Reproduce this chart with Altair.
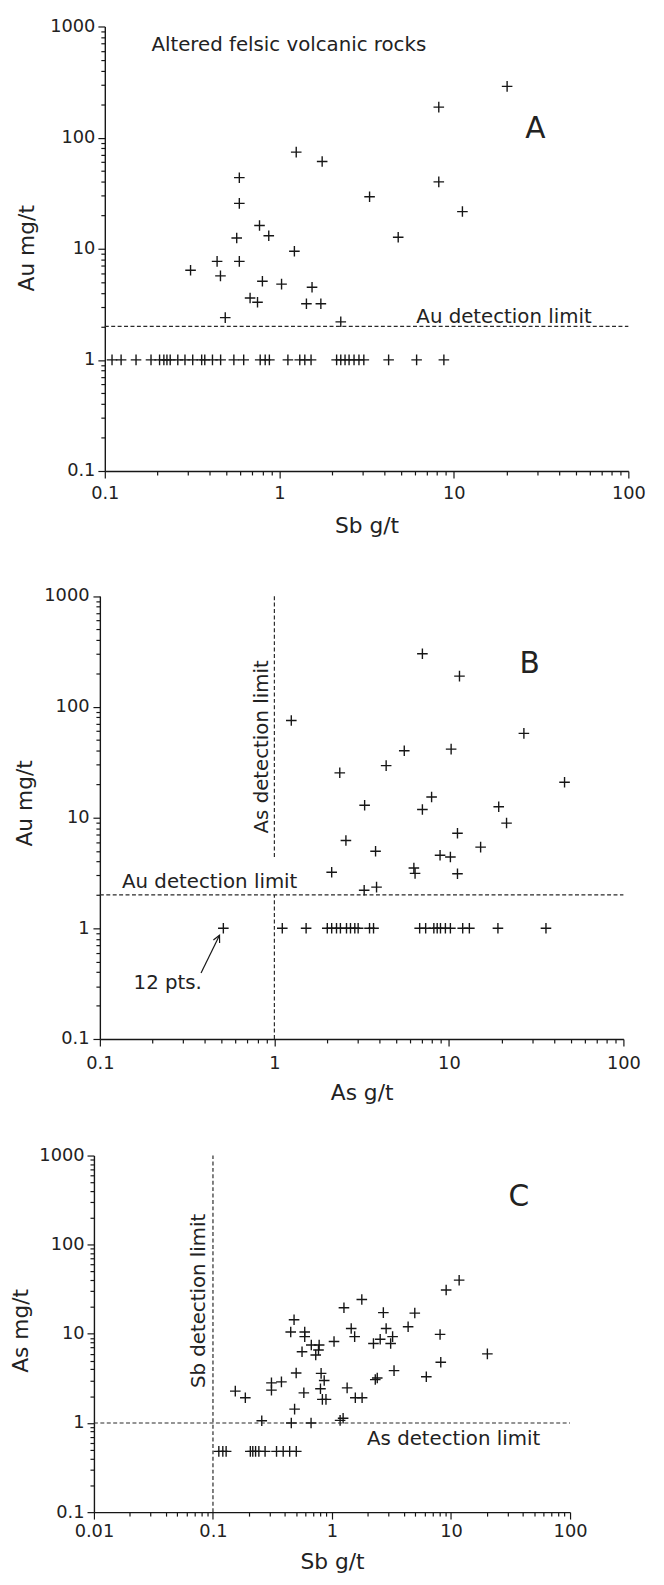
import altair as alt
import pandas as pd

# ---------------- Panel A: Au (mg/t) vs Sb (g/t) ----------------
A_SB = [0.31, 0.44, 0.46, 0.49, 0.59, 0.59, 0.57, 0.59, 0.77, 0.87, 0.68, 0.75, 0.80,
        1.03, 1.22, 1.25, 1.76, 1.54, 1.43, 1.73, 2.25, 20.2, 8.2, 8.2, 3.29, 11.2, 4.8]
A_AU = [6.4, 7.7, 5.7, 2.4, 43.6, 25.6, 12.5, 7.7, 16.2, 13.1, 3.6, 3.3, 5.1,
        4.8, 9.5, 74, 61, 4.5, 3.2, 3.2, 2.2, 289, 188, 40, 29.4, 21.6, 12.7]
A_LOW_SB = [0.110, 0.124, 0.151, 0.184, 0.206, 0.218, 0.227, 0.237, 0.262, 0.288, 0.319,
            0.359, 0.374, 0.414, 0.461, 0.549, 0.625, 0.777, 0.83, 0.877, 1.12, 1.31,
            1.40, 1.52, 2.13, 2.25, 2.38, 2.51, 2.68, 2.86, 3.05, 4.23, 6.12, 8.77]
A_LOW_AU = 1.0
A_AU_LIMIT = 2.0

# ---------------- Panel B: Au (mg/t) vs As (g/t) ----------------
B_AS = [1.25, 2.37, 3.29, 2.57, 2.13, 3.27, 3.85, 7.05, 11.5, 26.9, 5.55, 10.3, 4.37,
        46, 7.96, 7.05, 19.3, 21.4, 11.2, 3.8, 15.2, 8.9, 10.2, 6.3, 6.4, 11.2]
B_AU = [75, 25.3, 12.9, 6.2, 3.2, 2.2, 2.35, 301, 189, 57.5, 40, 41.4, 29.4,
        20.8, 15.3, 11.8, 12.5, 8.9, 7.2, 4.95, 5.4, 4.56, 4.4, 3.5, 3.13, 3.1]
B_LOW_AS = [1.11, 1.52, 2.01, 2.13, 2.27, 2.39, 2.59, 2.73, 2.89, 3.02, 3.51, 3.70,
            6.8, 7.36, 8.2, 8.57, 8.95, 9.55, 10.2, 12.0, 13.1, 19.1, 36]
B_LOW_AU = 1.0
B_BOTH_LOW = [0.51, 1.0]          # 12 superimposed points
B_AU_LIMIT = 2.0
B_AS_LIMIT = 1.0

# ---------------- Panel C: As (mg/t) vs Sb (g/t) ----------------
C_SB = [9.1, 11.7, 1.78, 1.26, 2.7, 4.96, 0.48, 0.45, 0.59, 0.59, 1.45, 1.55, 2.85,
        3.23, 4.36, 8.09, 1.04, 2.23, 2.54, 3.11, 0.67, 0.78, 0.56, 0.73, 0.77, 20.2,
        8.2, 0.50, 0.81, 0.86, 3.32, 6.2, 2.31, 2.4, 0.31, 0.31, 0.376, 0.154, 0.187,
        0.58, 0.80, 0.83, 0.89, 1.34, 1.57, 1.79, 0.485, 0.257, 0.455, 0.667, 1.17, 1.24]
C_AS = [31, 40, 24.3, 19.6, 17.3, 17.1, 14.4, 10.5, 10.5, 9.3, 11.5, 9.3, 11.5,
        9.3, 12, 9.85, 8.2, 7.8, 8.7, 7.8, 7.5, 7.5, 6.3, 5.8, 6.6, 5.96,
        4.8, 3.64, 3.6, 3.0, 3.87, 3.3, 3.07, 3.2, 2.82, 2.34, 2.89, 2.28, 1.92,
        2.18, 2.42, 1.84, 1.84, 2.48, 1.92, 1.92, 1.43, 1.06, 1.0, 1.0, 1.07, 1.13]
C_LOW_SB = [0.112, 0.121, 0.129, 0.206, 0.216, 0.228, 0.243, 0.274, 0.342, 0.389, 0.441, 0.501]
C_LOW_AS = 0.48
C_SB_LIMIT = 0.1
C_AS_LIMIT = 1.0

DECADES = [0.01, 0.1, 1, 10, 100, 1000]
FONT = "DejaVu Sans"
INK = "#161616"
CROSS = "M-1,0L1,0M0,-1L0,1"
CHEVRON = "M-0.5,1L0,0L0.5,1"


def log_ticks(lo, hi):
    vals = []
    for e in range(lo, hi):
        for m in range(1, 10):
            vals.append(float(f"{m}e{e}"))
    vals.append(float(f"1e{hi}"))
    return vals


DEC_TEST = "indexof([0.01, 0.1, 1, 10, 100, 1000], datum.value) >= 0"


def axis(title, values, **kw):
    return alt.Axis(
        title=title, values=values, format="~g",
        labelExpr=DEC_TEST + " ? datum.label : ''",
        tickSize={"condition": {"test": DEC_TEST, "value": 7}, "value": 4},
        labelOverlap=False, labelFlush=False, labelBound=False, grid=False,
        domainColor=INK, domainWidth=1.4, tickColor=INK, tickWidth=1.2,
        labelFont=FONT, labelFontSize=18, labelColor="#222",
        titleFont=FONT, titleFontSize=22, titleFontWeight="normal", titleColor="#222",
        titleBaseline="middle", titleAlign="center",
        **kw)


def panel(xs, ys, xa, ya, pts, low, rules, notes, letters, rots, extra=None,
          width=500, height=400):
    X = lambda f="x": alt.X(f + ":Q", scale=xs, axis=xa)
    Y = lambda f="y": alt.Y(f + ":Q", scale=ys, axis=ya)
    layers = []
    layers.append(alt.Chart(pts).mark_point(shape=CROSS, filled=False, size=115,
                                            color=INK, strokeWidth=1.4, opacity=1)
                  .encode(x=X(), y=Y()))
    layers.append(alt.Chart(low).mark_point(shape=CROSS, filled=False, size=115,
                                            color=INK, strokeWidth=1.4, opacity=1)
                  .encode(x=X(), y=Y()))
    layers.append(alt.Chart(rules).mark_rule(color="#2a2a2a", strokeWidth=1.2, strokeDash=[4, 2.5])
                  .encode(x=X(), x2="x2:Q", y=Y(), y2="y2:Q"))
    layers.append(alt.Chart(notes).mark_text(font=FONT, fontSize=20, color="#222",
                                             align="left", baseline="middle")
                  .encode(x=X(), y=Y(), text="t:N"))
    layers.append(alt.Chart(letters).mark_text(font=FONT, fontSize=30, color="#222",
                                               align="center", baseline="middle")
                  .encode(x=X(), y=Y(), text="t:N"))
    layers.append(alt.Chart(rots).mark_text(font=FONT, fontSize=20, color="#222",
                                            align="center", baseline="middle", angle=270)
                  .encode(x=X(), y=Y(), text="t:N"))
    if extra:
        for e in extra(X, Y):
            layers.append(e)
    return alt.layer(*layers).properties(width=width, height=height)


# ---------- A ----------
xsA = alt.Scale(type="log", domain=[0.1, 100], nice=False, range=[11, 541])
ysA = alt.Scale(type="log", domain=[0.1, 1000], nice=False)
xaA = axis("Sb g/t", log_ticks(-1, 2), labelPadding=7, titleY=55)
yaA = axis("Au mg/t", log_ticks(-1, 3), labelPadding=3, offset=-11, titleX=-79, titleY=224)
chartA = panel(
    xsA, ysA, xaA, yaA,
    pd.DataFrame({"x": A_SB, "y": A_AU}),
    pd.DataFrame({"x": A_LOW_SB, "y": [A_LOW_AU] * len(A_LOW_SB)}),
    pd.DataFrame({"x": [0.1], "x2": [100], "y": [A_AU_LIMIT], "y2": [A_AU_LIMIT]}),
    pd.DataFrame({"x": [0.185, 6.1], "y": [678, 2.44],
                  "t": ["Altered felsic volcanic rocks", "Au detection limit"]}),
    pd.DataFrame({"x": [29.3], "y": [119], "t": ["A"]}),
    pd.DataFrame({"x": [], "y": [], "t": []}),
    width=541, height=450)

# ---------- B ----------
xsB = alt.Scale(type="log", domain=[0.1, 100], nice=False, range=[6, 536])
ysB = alt.Scale(type="log", domain=[0.1, 1000], nice=False, range=[457, 8.5])
xaB = axis("As g/t", log_ticks(-1, 2), labelPadding=9, titleY=54)
yaB = axis("Au mg/t", log_ticks(-1, 3), labelPadding=4, offset=-6, titleX=-76, titleY=218)


def arrowB(X, Y):
    arr = pd.DataFrame({"x": [0.38], "x2": [0.485], "y": [0.394], "y2": [0.865]})
    head = pd.DataFrame({"x": [0.485], "y": [0.865]})
    return [
        alt.Chart(arr).mark_rule(color=INK, strokeWidth=1.2)
        .encode(x=X(), x2="x2:Q", y=Y(), y2="y2:Q"),
        alt.Chart(head).mark_point(shape=CHEVRON, filled=False, size=196, angle=26,
                                   color=INK, strokeWidth=1.2, opacity=1)
        .encode(x=X(), y=Y()),
    ]


chartB = panel(
    xsB, ysB, xaB, yaB,
    pd.DataFrame({"x": B_AS, "y": B_AU}),
    pd.DataFrame({"x": B_LOW_AS + [B_BOTH_LOW[0]],
                  "y": [B_LOW_AU] * len(B_LOW_AS) + [B_BOTH_LOW[1]]}),
    pd.DataFrame({"x": [0.1, B_AS_LIMIT, B_AS_LIMIT],
                  "x2": [100, B_AS_LIMIT, B_AS_LIMIT],
                  "y": [B_AU_LIMIT, 4.4, 0.1],
                  "y2": [B_AU_LIMIT, 1000, B_AU_LIMIT]}),
    pd.DataFrame({"x": [0.134, 0.156], "y": [2.59, 0.32],
                  "t": ["Au detection limit", "12 pts."]}),
    pd.DataFrame({"x": [29], "y": [245], "t": ["B"]}),
    pd.DataFrame({"x": [0.853], "y": [43.4], "t": ["As detection limit"]}),
    extra=arrowB,
    width=536, height=457)

# ---------- C ----------
xsC = alt.Scale(type="log", domain=[0.01, 100], nice=False)
ysC = alt.Scale(type="log", domain=[0.1, 1000], nice=False)
xaC = axis("Sb g/t", log_ticks(-2, 2), labelPadding=4, titleY=50)
yaC = axis("As mg/t", log_ticks(-1, 3), labelPadding=3, titleX=-74, titleY=177)
chartC = panel(
    xsC, ysC, xaC, yaC,
    pd.DataFrame({"x": C_SB, "y": C_AS}),
    pd.DataFrame({"x": C_LOW_SB, "y": [C_LOW_AS] * len(C_LOW_SB)}),
    pd.DataFrame({"x": [0.01, C_SB_LIMIT], "x2": [100, C_SB_LIMIT],
                  "y": [C_AS_LIMIT, 0.1], "y2": [C_AS_LIMIT, 1000]}),
    pd.DataFrame({"x": [1.97], "y": [0.66], "t": ["As detection limit"]}),
    pd.DataFrame({"x": [37.2], "y": [345], "t": ["C"]}),
    pd.DataFrame({"x": [0.0767], "y": [23.4], "t": ["Sb detection limit"]}),
    width=482, height=361)

chart = alt.vconcat(chartA, chartB, chartC, spacing=118, bounds="flush").properties(
    padding={"left": 2, "top": 0, "right": 10, "bottom": 0},
    background="white",
).configure_view(strokeWidth=0, stroke="transparent")

chart.save("out.html", embed_options={"renderer": "svg", "actions": False})
